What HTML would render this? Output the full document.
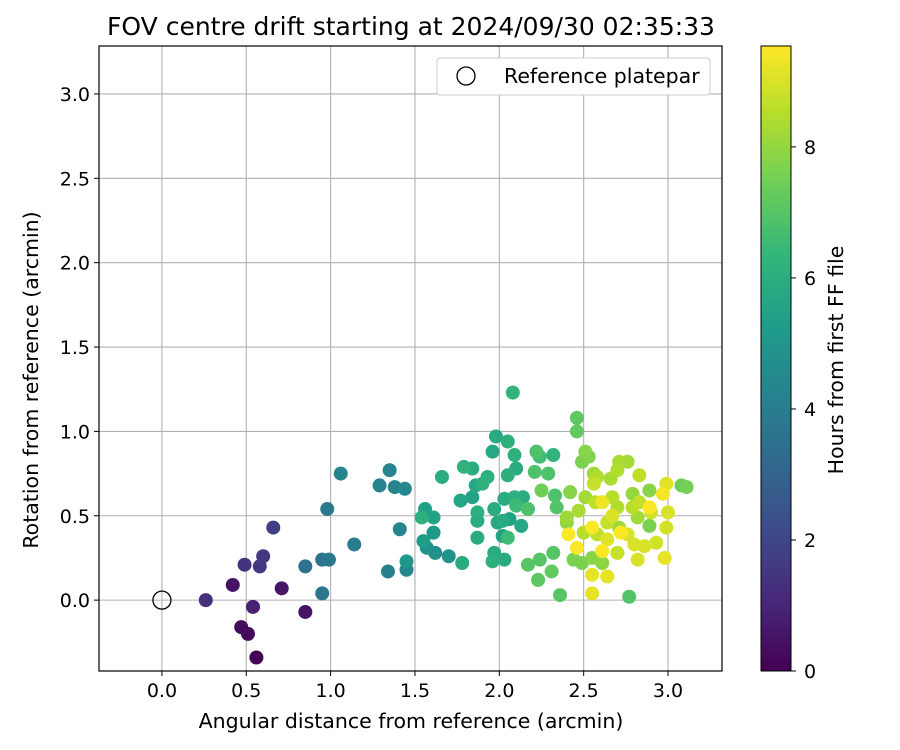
<!DOCTYPE html>
<html><head><meta charset="utf-8">
<style>
body{margin:0;background:#fff;}
svg{display:block;font-family:"DejaVu Sans","Liberation Sans",sans-serif;}
</style></head>
<body>
<svg id="chart" width="900" height="750">
<defs>
<linearGradient id="vir" x1="0" y1="1" x2="0" y2="0">
<stop offset="0" stop-color="#440154"/><stop offset="0.11" stop-color="#482878"/>
<stop offset="0.22" stop-color="#3e4a89"/><stop offset="0.33" stop-color="#31688e"/>
<stop offset="0.44" stop-color="#26828e"/><stop offset="0.56" stop-color="#1f9e89"/>
<stop offset="0.67" stop-color="#35b779"/><stop offset="0.78" stop-color="#6ece58"/>
<stop offset="0.89" stop-color="#b5de2b"/><stop offset="1" stop-color="#fde725"/>
</linearGradient>
</defs>
<text x="411" y="35" text-anchor="middle" font-size="25">FOV centre drift starting at 2024/09/30 02:35:33</text>
<g id="grid"></g>
<g id="points"></g>
<rect x="99" y="46" width="623" height="625" fill="none" stroke="#000" stroke-width="1.2"/>
<g id="ticks"></g>
<text x="411" y="728" text-anchor="middle" font-size="20.5">Angular distance from reference (arcmin)</text>
<text transform="translate(38,380) rotate(-90)" text-anchor="middle" font-size="20.5">Rotation from reference (arcmin)</text>
<g>
<rect x="437" y="58" width="273" height="37" rx="3" fill="#fff" stroke="#ccc"/>
<circle cx="466" cy="76" r="9" fill="none" stroke="#000" stroke-width="1.3"/>
<text x="504" y="83" font-size="20.5">Reference platepar</text>
</g>
<rect x="761" y="46" width="30" height="625" fill="url(#vir)" stroke="#000" stroke-width="1"/>
<g id="cbticks"></g>
<text transform="translate(843,360) rotate(-90)" text-anchor="middle" font-size="20.5">Hours from first FF file</text>
</svg>
<script>
const xVals=[0.26,0.49,0.66,0.60,0.58,0.54,0.42,0.47,0.51,0.56,0.71,0.85,0.85,0.95,0.95,0.99,0.98,1.06,1.14,1.29,1.35,1.38,1.44,1.41,1.34,1.45,1.45,
2.08,1.98,2.05,1.96,2.09,2.22,2.24,2.32,2.10,2.05,2.21,2.29,1.66,1.79,1.84,1.93,1.86,1.90,1.84,1.77,2.03,2.09,2.14,2.10,2.17,1.97,2.25,2.33,2.34,1.56,1.54,1.61,1.87,1.87,1.99,2.02,2.06,1.61,2.13,1.87,2.02,2.05,1.55,1.57,1.62,1.70,1.78,1.97,1.96,2.03,2.17,2.24,2.32,2.23,2.31,2.36,
2.46,2.46,2.51,2.49,2.53,2.56,2.58,2.56,2.66,2.70,2.71,2.76,2.83,2.89,2.99,2.97,3.08,3.11,2.51,2.42,2.47,2.57,2.61,2.67,2.70,2.79,2.83,2.89,2.90,3.00,2.79,2.82,2.67,2.64,2.40,2.40,2.55,2.41,2.50,2.58,2.71,2.72,2.76,2.89,2.99,2.46,2.64,2.61,2.70,2.80,2.86,2.93,2.82,2.98,2.44,2.49,2.55,2.61,2.55,2.64,2.55,2.77];
const yVals=[0.00,0.21,0.43,0.26,0.20,-0.04,0.09,-0.16,-0.20,-0.34,0.07,-0.07,0.20,0.04,0.24,0.24,0.54,0.75,0.33,0.68,0.77,0.67,0.66,0.42,0.17,0.18,0.23,
1.23,0.97,0.94,0.88,0.86,0.88,0.85,0.86,0.78,0.74,0.76,0.75,0.73,0.79,0.78,0.73,0.68,0.69,0.61,0.59,0.60,0.61,0.61,0.56,0.54,0.54,0.65,0.62,0.55,0.54,0.49,0.49,0.52,0.47,0.46,0.47,0.48,0.40,0.44,0.37,0.38,0.37,0.35,0.31,0.28,0.26,0.22,0.28,0.23,0.24,0.21,0.24,0.28,0.12,0.17,0.03,
1.08,1.00,0.88,0.82,0.85,0.75,0.73,0.69,0.72,0.77,0.82,0.82,0.74,0.65,0.69,0.63,0.68,0.67,0.61,0.64,0.53,0.58,0.58,0.61,0.55,0.63,0.58,0.55,0.52,0.52,0.55,0.49,0.50,0.46,0.49,0.46,0.43,0.39,0.40,0.39,0.43,0.40,0.39,0.44,0.43,0.31,0.36,0.29,0.28,0.33,0.32,0.34,0.24,0.25,0.24,0.22,0.25,0.22,0.15,0.14,0.04,0.02];
const hVals=[1.3,1.4,1.8,1.6,1.5,0.9,0.5,0.3,0.2,0.1,0.6,0.5,3.6,3.8,3.7,3.8,3.9,4.3,4.0,4.3,4.3,4.3,4.4,4.4,4.2,4.4,5.0,
6.2,5.8,6.0,5.7,6.0,6.8,6.6,6.2,5.9,6.0,6.8,6.8,5.9,6.1,5.9,6.0,5.7,6.1,5.5,5.6,5.9,6.0,5.9,6.5,6.8,5.9,7.4,6.8,6.9,5.4,6.0,5.5,6.0,5.8,5.7,5.8,5.5,5.1,5.7,5.8,5.5,6.5,5.3,4.9,4.8,4.9,5.8,5.8,6.0,5.9,7.0,7.0,7.0,7.1,7.2,7.0,
7.1,7.2,7.8,7.6,7.7,8.2,8.4,8.7,8.3,8.4,8.3,8.2,8.6,7.8,9.1,9.4,7.4,7.5,8.2,7.8,8.3,8.6,9.3,8.5,8.4,8.0,8.7,9.5,8.9,9.0,8.5,8.2,9.0,8.7,8.1,7.9,9.5,9.5,8.5,8.6,8.1,9.5,9.0,7.6,8.9,9.5,9.1,9.5,8.7,9.0,9.0,8.9,9.0,9.2,7.6,7.6,7.8,7.9,9.2,9.2,9.2,6.9];
const xTicks=[0.0,0.5,1.0,1.5,2.0,2.5,3.0];
const yTicks=[0.0,0.5,1.0,1.5,2.0,2.5,3.0];
const cTicks=[0,2,4,6,8];
const L=99,R=722,T=46,B=671;
const xMin=-0.373,xMax=3.32,yMin=-0.42,yMax=3.284,hMax=9.54;
const sx=v=>L+(v-xMin)/(xMax-xMin)*(R-L);
const sy=v=>B-(v-yMin)/(yMax-yMin)*(B-T);
const sc=v=>671-v/hMax*625;
const vir=[[68,1,84],[72,40,120],[62,74,137],[49,104,142],[38,130,142],[31,158,137],[53,183,121],[110,206,88],[181,222,43],[253,231,37]];
function col(h){let t=Math.max(0,Math.min(1,h/hMax))*9;let i=Math.min(8,Math.floor(t)),f=t-i;let a=vir[i],b=vir[i+1];return 'rgb('+a.map((c,k)=>Math.round(c+(b[k]-c)*f)).join(',')+')';}
const NS='http://www.w3.org/2000/svg';
function mk(tag,attrs,parent){const e=document.createElementNS(NS,tag);for(const k in attrs)e.setAttribute(k,attrs[k]);parent.appendChild(e);return e;}
const grid=document.getElementById('grid'),ticks=document.getElementById('ticks'),pts=document.getElementById('points'),cb=document.getElementById('cbticks');
xTicks.forEach(v=>{const x=sx(v);
const g=mk('line',{x1:x,x2:x,y1:T,y2:B,stroke:'#b0b0b0','stroke-width':1.1},grid);


const t=mk('line',{x1:x,x2:x,y1:B,y2:B+5,stroke:'#000'},ticks);


const tx=mk('text',{x:x,y:B+26,'text-anchor':'middle','font-size':19},ticks);tx.textContent=v.toFixed(1);

});
yTicks.forEach(v=>{const y=sy(v);
const g=mk('line',{x1:L,x2:R,y1:y,y2:y,stroke:'#b0b0b0','stroke-width':1.1},grid);


const t=mk('line',{x1:L-5,x2:L,y1:y,y2:y,stroke:'#000'},ticks);


const tx=mk('text',{x:L-9,y:y+7,'text-anchor':'end','font-size':19},ticks);tx.textContent=v.toFixed(1);

});
cTicks.forEach(v=>{const y=sc(v);
const t=mk('line',{x1:791,x2:796,y1:y,y2:y,stroke:'#000'},cb);


const tx=mk('text',{x:804,y:y+7,'font-size':19},cb);tx.textContent=v;

});
const order=xVals.map((v,i)=>i).sort((a,b)=>hVals[a]-hVals[b]);
order.forEach(i=>{const c=mk('circle',{cx:sx(xVals[i]),cy:sy(yVals[i]),r:7,fill:col(hVals[i])},pts);

});
const ref=mk('circle',{cx:sx(0),cy:sy(0),r:9,fill:'none',stroke:'#000','stroke-width':1.3},pts);


</script>
</body></html>
